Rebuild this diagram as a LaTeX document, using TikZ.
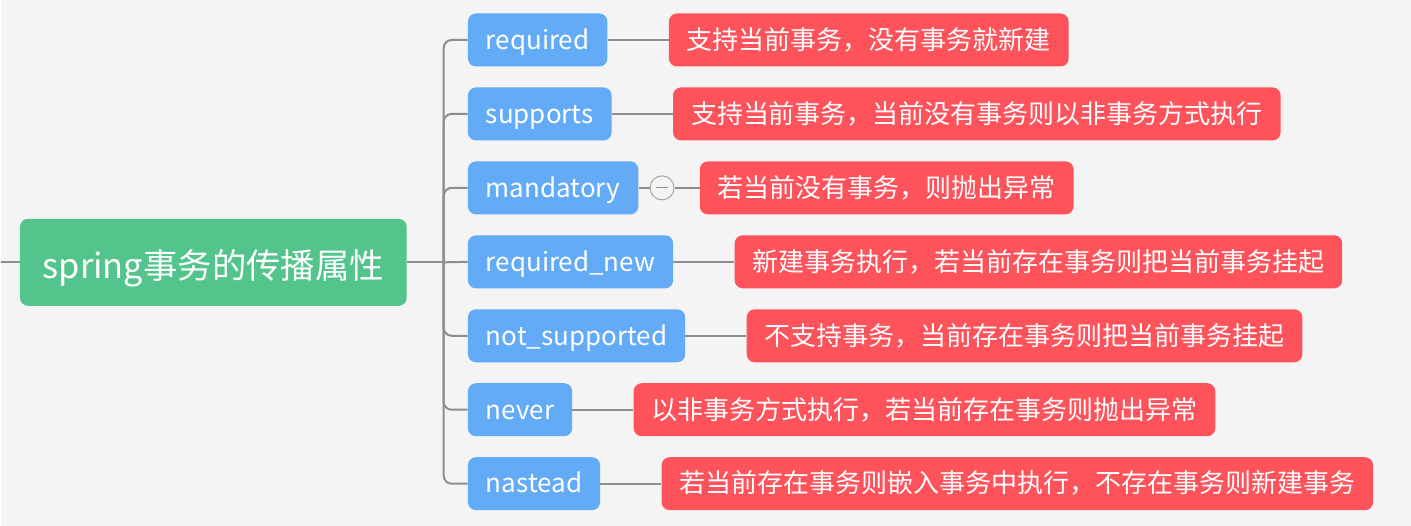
\documentclass[tikz,border=0pt]{standalone}
\usepackage{fontspec}
\setmainfont{Noto Sans CJK SC}
\usepackage{xcolor}
\usepackage{tikz}
\usetikzlibrary{positioning}
\definecolor{paper}{HTML}{F4F4F4}
\definecolor{rootgreen}{HTML}{52C48C}
\definecolor{modeblue}{HTML}{63ABF7}
\definecolor{notered}{HTML}{FF535C}
\definecolor{wiregray}{HTML}{8E8E8E}

\begin{document}
\begin{tikzpicture}[x=0.75pt, y=-0.75pt,
  topic/.style={fill=rootgreen, text=white, rounded corners=6pt,
        minimum width=290.25pt, minimum height=65.25pt,
        text height=28pt, text depth=4pt,
        font=\fontsize{25.8pt}{30pt}\selectfont},
  mode/.style={fill=modeblue, text=white, rounded corners=6pt, anchor=west,
        minimum height=39.75pt, inner xsep=13.5pt,
        text height=17.5pt, text depth=3.5pt,
        font=\fontsize{19.5pt}{24pt}\selectfont},
  note/.style={fill=notered, text=white, rounded corners=6pt,
        minimum height=39.75pt, inner xsep=13.5pt,
        text height=17.5pt, text depth=3.5pt,
        font=\fontsize{19.5pt}{24pt}\selectfont},
  fold/.style={circle, draw=wiregray!80, fill=paper, line width=0.75pt,
        minimum size=18pt, inner sep=0pt},
  wire/.style={draw=wiregray, line width=1.5pt}]

  \fill[paper] (0,0) rectangle (1411,526);

  % root and its stem
  \node[topic] (root) at (212.5,262.5) {spring事务的传播属性};
  \coordinate (lead) at (0,262.5);
  \coordinate (hub) at (443,262.5);

  % propagation modes
  \node[mode] (m1) at (467,40)  {required};
  \node[mode] (m2) at (467,114) {supports};
  \node[mode] (m3) at (467,188) {mandatory};
  \node[mode] (m4) at (467,262) {required\_new};
  \node[mode] (m5) at (467,336) {not\_supported};
  \node[mode] (m6) at (467,410) {never};
  \node[mode] (m7) at (467,484) {nastead};

  % explanations
  \node[note, right=45.75pt of m1] (n1) {支持当前事务，没有事务就新建};
  \node[note, right=45.75pt of m2] (n2) {支持当前事务，当前没有事务则以非事务方式执行};
  \node[note, right=45.75pt of m3] (n3) {若当前没有事务，则抛出异常};
  \node[note, right=45.75pt of m4] (n4) {新建事务执行，若当前存在事务则把当前事务挂起};
  \node[note, right=45.75pt of m5] (n5) {不支持事务，当前存在事务则把当前事务挂起};
  \node[note, right=45.75pt of m6] (n6) {以非事务方式执行，若当前存在事务则抛出异常};
  \node[note, right=45.75pt of m7] (n7) {若当前存在事务则嵌入事务中执行，不存在事务则新建事务};

  \node[fold, right=8.25pt of m3] (m3fold) {};

  % connectors
  \draw[wire] (lead) -- (root.west);
  \draw[wire] (root.east) -- (hub);
  \draw[wire, rounded corners=6pt] (hub) |- (m1.west);
  \draw[wire, rounded corners=6pt] (hub) |- (m2.west);
  \draw[wire, rounded corners=6pt] (hub) |- (m3.west);
  \draw[wire] (hub) -- (m4.west);
  \draw[wire, rounded corners=6pt] (hub) |- (m5.west);
  \draw[wire, rounded corners=6pt] (hub) |- (m6.west);
  \draw[wire, rounded corners=6pt] (hub) |- (m7.west);

  \draw[wire] (m1) -- (n1);
  \draw[wire] (m2) -- (n2);
  \draw[wire] (m3) -- (m3fold) -- (n3);
  \draw[wire] (m4) -- (n4);
  \draw[wire] (m5) -- (n5);
  \draw[wire] (m6) -- (n6);
  \draw[wire] (m7) -- (n7);
  \draw[wiregray, line width=0.75pt] ([xshift=-4.5pt]m3fold.center) -- ([xshift=4.5pt]m3fold.center);
\end{tikzpicture}
\end{document}
